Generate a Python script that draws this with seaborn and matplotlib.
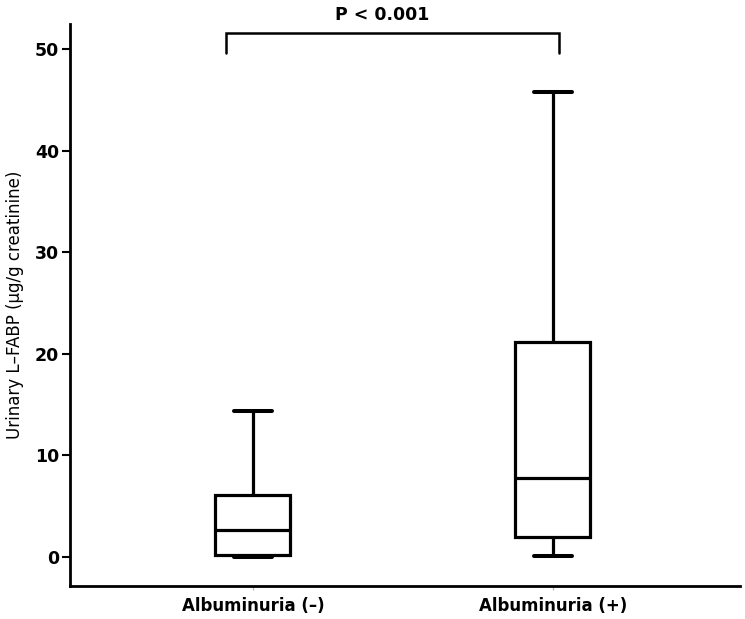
import matplotlib
matplotlib.use("Agg")
import matplotlib.pyplot as plt
import seaborn as sns
import pandas as pd

categories = ["Albuminuria (\u2013)", "Albuminuria (+)"]
# five-number summaries: min, Q1, median, Q3, max
neg_values = [0.0, 0.2, 2.7, 6.1, 14.4]
pos_values = [0.1, 2.0, 7.8, 21.2, 45.8]
y_ticks = [0, 10, 20, 30, 40, 50]
p_text = "P < 0.001"

df = pd.DataFrame({
    "group": [categories[0]] * len(neg_values) + [categories[1]] * len(pos_values),
    "value": neg_values + pos_values,
})

sns.set_style("ticks")
plt.rcParams["font.family"] = ["DejaVu Sans"]
plt.rcParams["text.color"] = "black"
plt.rcParams["axes.labelcolor"] = "black"
plt.rcParams["xtick.color"] = "black"
plt.rcParams["ytick.color"] = "black"

fig = plt.figure(figsize=(7.45, 6.19), dpi=100)
ax = fig.add_axes([0.094, 0.0533, 0.899, 0.908])

lw = 2.3
sns.boxplot(data=df, x="group", y="value", order=categories, whis=(0, 100),
            width=0.25, color="white", linecolor="black", linewidth=lw,
            showfliers=False, ax=ax,
            boxprops=dict(facecolor="white", edgecolor="black", linewidth=lw),
            whiskerprops=dict(color="black", linewidth=lw),
            capprops=dict(color="black", linewidth=lw + 0.6),
            medianprops=dict(color="black", linewidth=lw))

ax.set_xlim(-0.61, 1.623)
ax.set_ylim(-2.86, 52.5)
ax.set_yticks(y_ticks)
ax.set_yticklabels([str(t) for t in y_ticks], fontsize=12.5, fontweight="bold")
for lab in ax.get_xticklabels():
    lab.set_fontsize(12)
    lab.set_fontweight("bold")
ax.set_xlabel("")
ax.set_ylabel("Urinary L\u2013FABP (\u00b5g/g creatinine)", fontsize=12, labelpad=8)

for s in ["top", "right"]:
    ax.spines[s].set_visible(False)
for s in ["left", "bottom"]:
    ax.spines[s].set_linewidth(2)
    ax.spines[s].set_color("black")
ax.tick_params(axis="y", length=6, width=1.5, colors="black", pad=2)
ax.tick_params(axis="x", length=3, width=1, color="#bbbbbb", labelcolor="black", pad=5)

# significance bracket
x0, x1 = -0.09, 1.02
y_low, y_top = 49.6, 51.6
ax.plot([x0, x0, x1, x1], [y_low, y_top, y_top, y_low], color="black",
        linewidth=1.8, clip_on=False, solid_joinstyle="miter")
ax.text((x0 + x1) / 2 - 0.035, y_top + 0.9, p_text, ha="center", va="bottom",
        fontsize=12.5, fontweight="bold", clip_on=False)

fig.savefig("out.png", dpi=100, facecolor="white")
